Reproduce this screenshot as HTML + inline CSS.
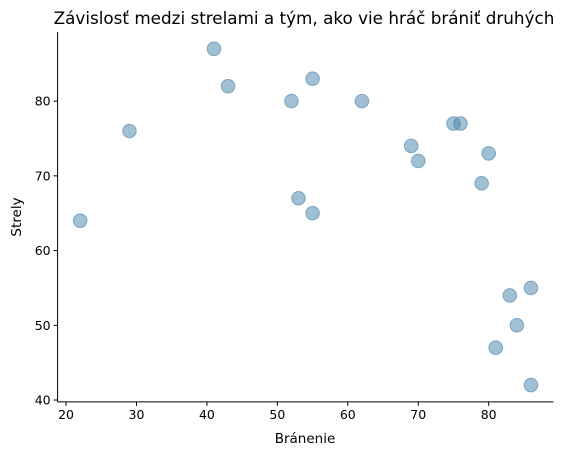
<!DOCTYPE html>
<html><head><meta charset="utf-8"><style>
html,body{margin:0;padding:0;background:#fff;}
svg{display:block;font-family:"DejaVu Sans","Liberation Sans",sans-serif;}
</style></head><body>
<svg id="chart" width="566" height="455" viewBox="0 0 566 455" xmlns="http://www.w3.org/2000/svg">
<text x="304" y="24" font-size="16.8" text-anchor="middle" fill="#000">Závislosť medzi strelami a tým, ako vie hráč brániť druhých</text>
<g id="marks"></g>
<g id="axes"></g>
<text x="305" y="443" font-size="13.5" text-anchor="middle">Bránenie</text>
<text x="21" y="217" font-size="13.5" text-anchor="middle" transform="rotate(-90 21 217)">Strely</text>
</svg>
<script>
const defense = [22,29,41,43,52,55,53,55,62,69,70,75,76,80,79,86,83,84,81,86];
const shots = [64,76,87,82,80,83,67,65,80,74,72,77,77,73,69,55,54,50,47,42];
const xTicks = [20,30,40,50,60,70,80];
const yTicks = [40,50,60,70,80];
const NS='http://www.w3.org/2000/svg';
const L=57.6,R=553.5,T=32,B=401.9;
const xMin=18.8,xMax=89.2,yMin=39.75,yMax=89.25;
const sx=v=>L+(v-xMin)/(xMax-xMin)*(R-L);
const sy=v=>B-(v-yMin)/(yMax-yMin)*(B-T);
function mk(tag,attrs,parent){const e=document.createElementNS(NS,tag);for(const k in attrs)e.setAttribute(k,attrs[k]);parent.appendChild(e);return e;}
const marks=document.getElementById('marks');
defense.forEach((d,i)=>{
  const c=mk('circle',{cx:sx(d),cy:sy(shots[i]),r:6.8,fill:'rgba(70,130,170,0.5)',stroke:'rgba(70,130,170,0.6)','stroke-width':1},marks);
  
  
});
const axes=document.getElementById('axes');
const ly=mk('line',{x1:L,y1:T,x2:L,y2:B,stroke:'#000','stroke-width':1},axes);


const lx=mk('line',{x1:L,y1:B,x2:R,y2:B,stroke:'#000','stroke-width':1},axes);


xTicks.forEach(v=>{
  const x=sx(v);
  mk('line',{x1:x,y1:B,x2:x,y2:B+4,stroke:'#000'},axes);
  const t=mk('text',{x:x,y:B+17,'font-size':12.5,'text-anchor':'middle'},axes);
  t.textContent=v;
  
  
});
yTicks.forEach(v=>{
  const y=sy(v);
  mk('line',{x1:L-4,y1:y,x2:L,y2:y,stroke:'#000'},axes);
  const t=mk('text',{x:L-7,y:y+4.5,'font-size':12.5,'text-anchor':'end'},axes);
  t.textContent=v;
  
  
});
</script>
</body></html>
